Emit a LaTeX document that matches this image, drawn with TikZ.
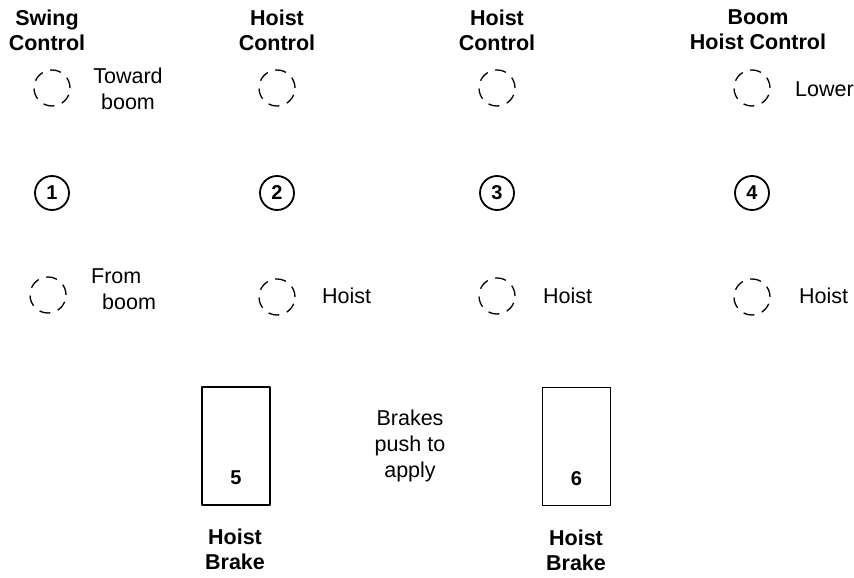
\documentclass[tikz,border=0pt]{standalone}
\usepackage{fontspec}
\setmainfont{Liberation Sans}
\usetikzlibrary{positioning}

\begin{document}
\begin{tikzpicture}[%
    x=1pt, y=-1pt,              % work in pixels of the sheet
    line join=round,
    ]
\tikzset{
  base/.style={align=center, inner sep=0pt, font=\fontsize{21.5}{26}\selectfont},
  head/.style={base, font=\fontsize{21.5}{25}\selectfont\bfseries},
  lbl/.style={base},
  dcirc/.style={draw, circle, minimum size=36pt, inner sep=0pt, line width=1.3pt,
                dash pattern=on 11pt off 8pt},
  ncirc/.style={draw, circle, minimum size=34pt, inner sep=0pt, line width=1.8pt,
                font=\fontsize{20}{20}\selectfont\bfseries},
  brake/.style={draw, rectangle, minimum width=68pt, minimum height=118pt,
                inner sep=0pt, line width=1.8pt},
  num/.style={base, font=\fontsize{20}{20}\selectfont\bfseries},
}
\useasboundingbox (0,0) rectangle (854,578);

% headings
\node [head] (h1) at (47,30) {Swing\\Control};
\node [head] (h2) at (277,30) {Hoist\\Control};
\node [head] (h3) at (497,30) {Hoist\\Control};
\node [head] (h4) at (758,30) {Boom\\Hoist Control};

% upper dashed circles
\node [dcirc] (u1) at (52,88) {};
\node [dcirc] (u2) at (277,88) {};
\node [dcirc] (u3) at (497,88) {};
\node [dcirc] (u4) at (752,88) {};

% numbered circles
\node [ncirc] (n1) at (52,193) {1};
\node [ncirc] (n2) at (277,193) {2};
\node [ncirc] (n3) at (497,193) {3};
\node [ncirc] (n4) at (752,193) {4};

% lower dashed circles
\node [dcirc] (d1) at (48,295) {};
\node [dcirc] (d2) at (277,297) {};
\node [dcirc] (d3) at (497,296) {};
\node [dcirc] (d4) at (752,297) {};

% labels
\node [lbl] (t1) at (128,89) {Toward\\boom};
\node [lbl, anchor=west] (t4) at (795,89) {Lower};
\node [lbl, align=left, anchor=west] (f1) at (91,289) {From\\\hspace{11pt}boom};
\node [lbl, anchor=west] (f2) at (322,296) {Hoist};
\node [lbl, anchor=west] (f3) at (543,296) {Hoist};
\node [lbl, anchor=west] (f4) at (799,296) {Hoist};

% brakes
\node [brake] (b5) at (236,446) {};
\node [brake] (b6) at (576.5,446.5) {};
\node [num] (m5) at ([yshift=28pt]b5.south) {5};
\node [num] (m6) at ([yshift=28pt]b6.south) {6};
\node [lbl] (a1) at (410,446) {Brakes\\push to\\apply};
\node [head] (k5) at (235,549) {Hoist\\Brake};
\node [head] (k6) at (576,550) {Hoist\\Brake};

\end{tikzpicture}
\end{document}
